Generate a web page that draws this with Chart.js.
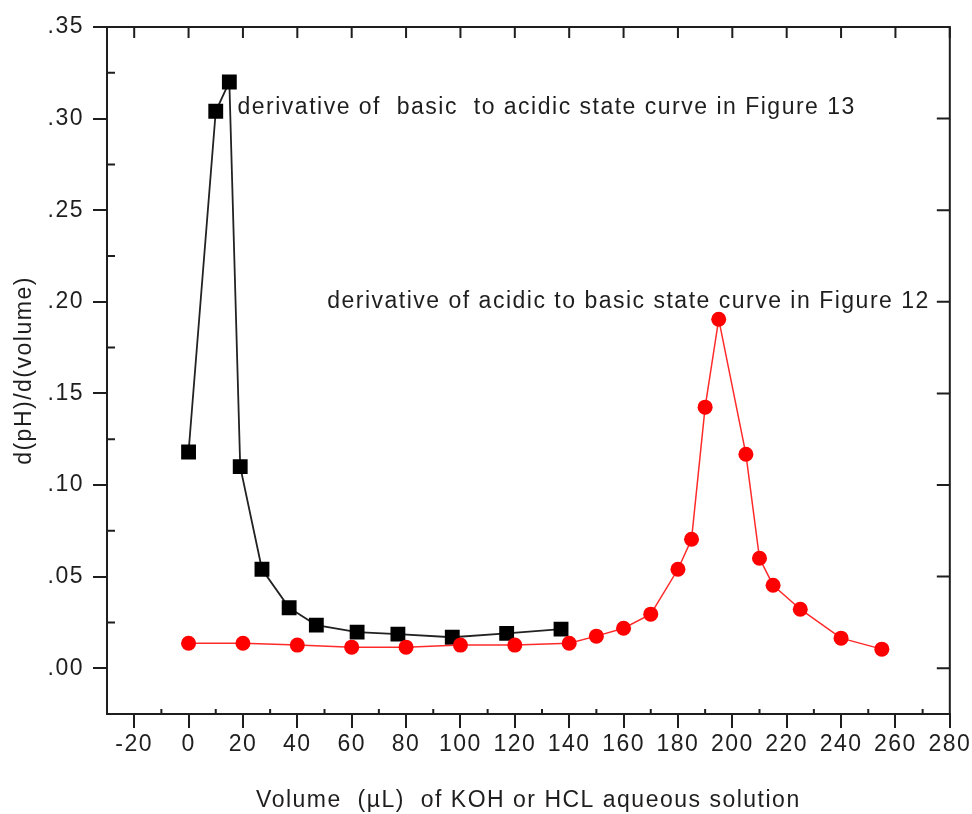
<!DOCTYPE html>
<html>
<head>
<meta charset="utf-8">
<script src="https://cdn.jsdelivr.net/npm/chart.js@4.4.1/dist/chart.umd.min.js"></script>
<style>
  html, body { margin: 0; padding: 0; background: #fff; }
  #wrap { width: 972px; height: 814px; }
</style>
</head>
<body>
<div id="wrap"><canvas id="myChart" width="972" height="814"></canvas></div>
<script>
// derivative of the basic -> acidic titration curve (Figure 13)
const basicVolume = [0, 10, 15, 19, 27, 37, 47, 62, 77, 97, 117, 137];
const basicSlope = [0.118, 0.304, 0.320, 0.110, 0.054, 0.033, 0.0235, 0.0197, 0.0186, 0.0169, 0.019, 0.0213];

// derivative of the acidic -> basic titration curve (Figure 12)
const acidicVolume = [0, 20, 40, 60, 80, 100, 120, 140, 150, 160, 170, 180, 185, 190, 195, 205, 210, 215, 225, 240, 255];
const acidicSlope = [0.0136, 0.0136, 0.0126, 0.0115, 0.0115, 0.0126, 0.0126, 0.0136, 0.0175, 0.0218, 0.0295, 0.054, 0.0704, 0.1425, 0.1905, 0.1168, 0.060, 0.0453, 0.0322, 0.0164, 0.0104];

const xTicks = [-20, 0, 20, 40, 60, 80, 100, 120, 140, 160, 180, 200, 220, 240, 260, 280];
const yTicks = [0, 0.05, 0.10, 0.15, 0.20, 0.25, 0.30, 0.35];

const notes = [
  { text: 'derivative of  basic  to acidic state curve in Figure 13', x: 18, y: 0.306 },
  { text: 'derivative of acidic to basic state curve in Figure 12', x: 51, y: 0.2 },
];

const FONT = "'Liberation Sans', Arial, sans-serif";
const INK = '#1e1e1e';
const SIZE = 23;

const toPoints = (xs, ys) => xs.map((v, i) => ({ x: v, y: ys[i] }));

// frame, inward ticks on all four sides, and the curve labels
const frameTicks = {
  id: 'frameTicks',
  beforeDraw(chart) {
    chart.ctx.letterSpacing = '1.5px';
  },
  afterDraw(chart) {
    const { ctx, chartArea: a, scales: { x, y } } = chart;
    ctx.save();
    ctx.strokeStyle = INK;
    ctx.lineWidth = 2;
    ctx.strokeRect(a.left, a.top, a.right - a.left, a.bottom - a.top);
    ctx.beginPath();
    xTicks.forEach((v) => {
      const px = x.getPixelForValue(v);
      ctx.moveTo(px, a.top);
      ctx.lineTo(px, a.top + 11);
      const m = v + 10;
      if (m < x.max) {
        const mx = x.getPixelForValue(m);
        ctx.moveTo(mx, a.bottom);
        ctx.lineTo(mx, a.bottom - 5);
      }
    });
    yTicks.forEach((v) => {
      const py = y.getPixelForValue(v);
      ctx.moveTo(a.right, py);
      ctx.lineTo(a.right - 13, py);
      const m = v + 0.025;
      if (m < y.max) {
        const my = y.getPixelForValue(m);
        ctx.moveTo(a.left, my);
        ctx.lineTo(a.left + 8, my);
      }
    });
    ctx.stroke();

    ctx.fillStyle = INK;
    ctx.font = SIZE + 'px ' + FONT;
    ctx.letterSpacing = '1.5px';
    ctx.textBaseline = 'middle';
    ctx.textAlign = 'left';
    notes.forEach((n) => {
      ctx.fillText(n.text, x.getPixelForValue(n.x), y.getPixelForValue(n.y));
    });
    ctx.restore();
  },
};

const ctx = document.getElementById('myChart');

new Chart(ctx, {
  type: 'line',
  data: {
    datasets: [
      {
        label: 'acidic to basic',
        data: toPoints(acidicVolume, acidicSlope),
        borderColor: '#ff2a2a',
        borderWidth: 1.5,
        pointStyle: 'circle',
        pointRadius: 7.5,
        pointBackgroundColor: '#ff0000',
        pointBorderWidth: 0,
        tension: 0,
      },
      {
        label: 'basic to acidic',
        data: toPoints(basicVolume, basicSlope),
        borderColor: '#222',
        borderWidth: 1.8,
        pointStyle: 'rect',
        pointRadius: 10.5,
        pointBackgroundColor: '#000',
        pointBorderWidth: 0,
        tension: 0,
      },
    ],
  },
  options: {
    responsive: false,
    animation: false,
    layout: { padding: { left: 0, top: 27, right: 21, bottom: 0 } },
    plugins: {
      legend: { display: false },
      tooltip: { enabled: false },
    },
    scales: {
      x: {
        type: 'linear',
        min: -30,
        max: 280,
        afterBuildTicks: (s) => { s.ticks = xTicks.map((v) => ({ value: v })); },
        afterFit: (s) => { s.height = 100; },
        border: { display: true, color: INK, width: 2 },
        grid: { display: true, drawOnChartArea: false, drawTicks: true, tickLength: 14, color: INK, lineWidth: 2 },
        ticks: { color: INK, font: { family: FONT, size: SIZE }, padding: 3, maxRotation: 0, autoSkip: false },
        title: {
          display: true,
          text: 'Volume  (µL)  of KOH or HCL aqueous solution',
          color: INK,
          font: { family: FONT, size: SIZE },
          padding: { top: 0, bottom: 0 },
        },
      },
      y: {
        type: 'linear',
        min: -0.025,
        max: 0.35,
        afterBuildTicks: (s) => { s.ticks = yTicks.map((v) => ({ value: v })); },
        afterFit: (s) => { s.width = 107; },
        border: { display: true, color: INK, width: 2 },
        grid: { display: true, drawOnChartArea: false, drawTicks: true, tickLength: 14, color: INK, lineWidth: 2 },
        ticks: {
          color: INK,
          font: { family: FONT, size: SIZE },
          padding: 9,
          callback: (v) => v.toFixed(2).replace(/^0/, ''),
        },
        title: {
          display: true,
          text: 'd(pH)/d(volume)',
          color: INK,
          font: { family: FONT, size: SIZE },
          padding: { top: 11, bottom: 0 },
        },
      },
    },
  },
  plugins: [frameTicks],
});
</script>
</body>
</html>
